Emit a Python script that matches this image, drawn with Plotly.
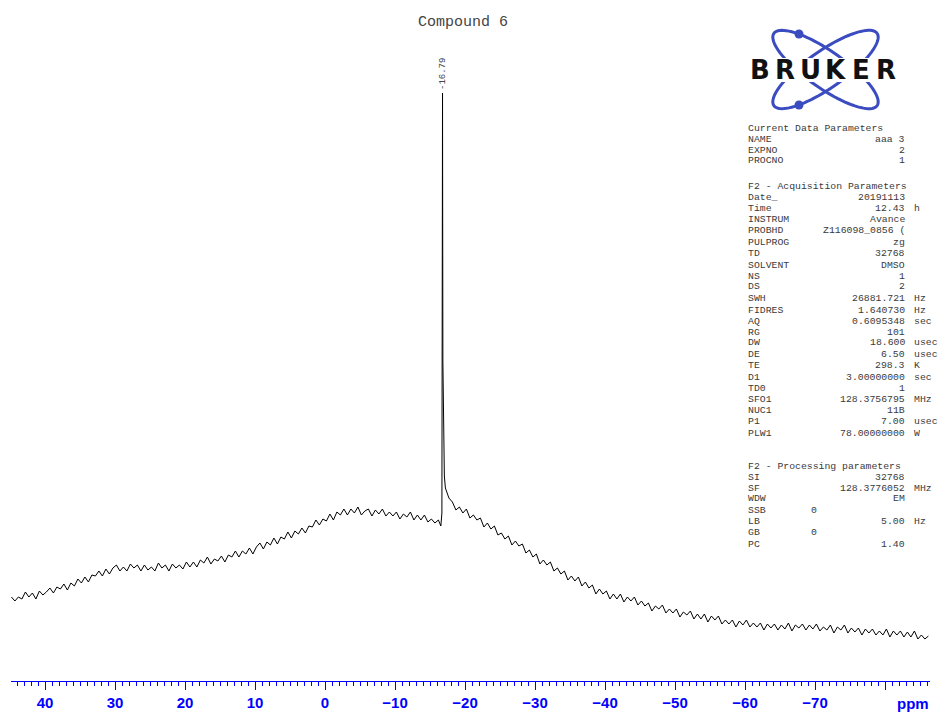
import numpy as np
import plotly.graph_objects as go

# ---------------- data ----------------
title_text = "Compound 6"
peak_label = "-16.79"

# regular ppm grid of the broad background (0.5 ppm steps, 44.8 -> -86.2)
grid_start_ppm = 44.8
grid_step_ppm = -0.5
baseline_int = [
    84, 80, 84, 82, 89, 84, 88, 82, 90, 86,
    89, 93, 88, 94, 92, 97, 91, 98, 95, 102,
    98, 104, 99, 106, 105, 110,
    105, 112, 107, 113,
    116, 110, 114, 110, 117, 113,
    116, 110, 116, 111,
    114, 110, 118, 113, 116, 110, 117, 113, 116, 112,
    119, 114, 119, 114, 121, 118, 124, 117, 122, 120,
    125, 119, 126, 124, 130, 124, 130, 127, 133, 127,
    134, 138, 132, 139, 136, 143, 137, 144,
    142, 149, 143, 150, 147, 153,
    148, 155, 154, 161,
    156, 162, 160, 167,
    161, 169, 166, 172, 166,
    172, 168, 174, 166, 170,
    172, 165, 171, 167, 172,
    165, 169, 165, 169,
    162, 167, 164, 169, 161,
    166, 161, 166, 159, 162, 158, 161,
    168, 193, 183, 179, 171, 174, 168, 172, 163,
    166, 161, 163, 154, 158,
    152, 155, 146, 148, 142,
    145, 136, 140, 135, 137,
    128, 131, 124, 127, 117,
    121, 116, 119, 110, 113,
    107, 110, 101, 105,
    100, 104, 95, 99, 93,
    96, 87, 92, 87, 90,
    82, 87, 82, 87,
    79, 84, 80, 84, 76,
    80, 75, 78, 70, 75,
    72, 76, 68, 72, 68,
    72, 64, 69, 66,
    70, 62, 67, 62, 67, 59,
    65, 61, 65, 57, 61, 57, 61, 54, 60, 56,
    61, 54, 58, 54, 58, 51, 57, 53,
    57, 51, 56, 52, 58, 50, 56, 53, 57, 51,
    56, 52, 57, 50, 54, 51, 56, 48, 54, 51,
    56, 48, 53, 49, 53, 46, 52, 48,
    52, 46, 50, 46, 52, 44, 50, 46, 50, 44,
    49, 44, 50, 42, 46, 42, 45,
]
# sharp resonance at -16.79 ppm
peak_ppm = [-16.55, -16.74, -16.79, -16.84, -16.95, -17.05]
peak_int = [155, 300, 588, 320, 230, 205]

tick_vals = [40, 30, 20, 10, 0, -10, -20, -30, -40, -50, -60, -70, -80]
tick_text = ["40", "30", "20", "10", "0", "\u221210", "\u221220", "\u221230",
             "\u221240", "\u221250", "\u221260", "\u221270", ""]
axis_unit = "ppm"

logo_word = "BRUKER"

param_names = ["Current Data Parameters", "NAME", "EXPNO", "PROCNO",
               "F2 - Acquisition Parameters", "Date_", "Time", "INSTRUM", "PROBHD",
               "PULPROG", "TD", "SOLVENT", "NS", "DS", "SWH", "FIDRES", "AQ", "RG",
               "DW", "DE", "TE", "D1", "TD0", "SFO1", "NUC1", "P1", "PLW1",
               "F2 - Processing parameters", "SI", "SF", "WDW", "SSB", "LB", "GB", "PC"]
param_values = ["", "aaa 3", "2", "1",
                "", "20191113", "12.43", "Avance", "Z116098_0856 (",
                "zg", "32768", "DMSO", "1", "2", "26881.721", "1.640730", "0.6095348", "101",
                "18.600", "6.50", "298.3", "3.00000000", "1", "128.3756795", "11B", "7.00", "78.00000000",
                "", "32768", "128.3776052", "EM", "0", "5.00", "0", "1.40"]
param_units = ["", "", "", "",
               "", "", "h", "", "",
               "", "", "", "", "", "Hz", "Hz", "sec", "",
               "usec", "usec", "K", "sec", "", "MHz", "", "usec", "W",
               "", "", "MHz", "", "", "Hz", "", ""]

# ---------------- assemble spectrum ----------------
grid_ppm = grid_start_ppm + grid_step_ppm * np.arange(len(baseline_int))
all_ppm = np.concatenate([grid_ppm, np.array(peak_ppm)])
all_int = np.concatenate([np.array(baseline_int, float), np.array(peak_int, float)])
order = np.argsort(-all_ppm)
all_ppm = all_ppm[order]
all_int = all_int[order]

# ---------------- layout geometry (pixels) ----------------
W, H = 943, 713
ML, MR, MT, MB = 11, 13, 0, 32
PW, PH = W - ML - MR, H - MT - MB
PX_PER_PPM = 7.0
x_left_ppm = (325 - ML) / PX_PER_PPM
x_right_ppm = (325 - (W - MR)) / PX_PER_PPM


def px(x):
    return (x - ML) / PW


def py(y):
    return (H - MB - y) / PH


fig = go.Figure()
fig.add_trace(go.Scatter(x=all_ppm, y=all_int, mode="lines",
                         line=dict(color="black", width=1),
                         hoverinfo="skip", showlegend=False))

BLUE = "#0000ff"
fig.update_layout(
    width=W, height=H,
    margin=dict(l=ML, r=MR, t=MT, b=MB, pad=0),
    paper_bgcolor="white", plot_bgcolor="white",
    showlegend=False,
    xaxis=dict(range=[x_left_ppm, x_right_ppm], showgrid=False, zeroline=False,
               showline=True, linecolor=BLUE, linewidth=1,
               tickmode="array", tickvals=tick_vals, ticktext=tick_text,
               ticks="outside", ticklen=8, tickwidth=1, tickcolor=BLUE,
               tickfont=dict(family="Liberation Sans", size=15, color=BLUE, weight="bold"),
               minor=dict(tick0=0, dtick=1, ticks="outside", ticklen=4,
                          tickwidth=1, tickcolor=BLUE, showgrid=False)),
    yaxis=dict(range=[0, PH], visible=False, showgrid=False, zeroline=False),
)

ann = []
# title
ann.append(dict(x=px(463), y=py(22), xref="paper", yref="paper", text=title_text,
                showarrow=False, xanchor="center", yanchor="middle",
                font=dict(family="Liberation Mono", size=15, color="#444444")))
# peak label
ann.append(dict(x=px(443), y=py(74), xref="paper", yref="paper", text=peak_label,
                showarrow=False, textangle=-90, xanchor="center", yanchor="middle",
                font=dict(family="Liberation Mono", size=9, color="#444444")))
# ppm unit label
ann.append(dict(x=px(913), y=py(703), xref="paper", yref="paper", text=axis_unit,
                showarrow=False, xanchor="center", yanchor="middle",
                font=dict(family="Liberation Sans", size=15, color=BLUE, weight="bold")))

# parameter block
line_y = [128, 139, 150, 161,
          186, 197, 208, 220, 231, 242, 253, 265, 276, 287, 298, 310, 321, 332,
          343, 354, 366, 377, 388, 399, 410, 422, 433,
          466, 477, 488, 499, 510, 521, 532, 544]
PFONT = dict(family="Liberation Mono", size=9.8, color="#3a3a3a")
NAME_X, VAL_RIGHT_X, UNIT_X, ZERO_X = 747, 906, 913, 810


def add_text(x, y, s, anchor):
    ann.append(dict(x=px(x), y=py(y), xref="paper", yref="paper",
                    text=s.replace(" ", "\u00a0"), showarrow=False,
                    xanchor=anchor, yanchor="middle", borderpad=0,
                    font=PFONT))


for name, val, unit, yy in zip(param_names, param_values, param_units, line_y):
    add_text(NAME_X, yy, name, "left")
    if val:
        if name in ("SSB", "GB"):
            add_text(ZERO_X, yy, val, "left")
        else:
            add_text(VAL_RIGHT_X, yy, val, "right")
    if unit:
        add_text(UNIT_X, yy, unit, "left")

# logo letters
letter_x = [759.7, 785.0, 810.3, 835.7, 861.0, 886.3]
for ch, lx in zip(logo_word, letter_x):
    ann.append(dict(x=px(lx), y=py(69.5), xref="paper", yref="paper", text=ch,
                    showarrow=False, xanchor="center", yanchor="middle", borderpad=0,
                    font=dict(family="DejaVu Sans", size=26, color="#111111", weight="bold")))
fig.update_layout(annotations=ann)

# logo orbits
LOGO_BLUE = "#3a4cc0"


def ellipse_path(cx, cy, a, b, theta_deg, n=90):
    t = np.linspace(0, 2 * np.pi, n)
    th = np.radians(theta_deg)
    xs = cx + a * np.cos(t) * np.cos(th) - b * np.sin(t) * np.sin(th)
    ys = cy + a * np.cos(t) * np.sin(th) + b * np.sin(t) * np.cos(th)
    pts = [f"{px(x):.5f},{py(y):.5f}" for x, y in zip(xs, ys)]
    return "M " + " L ".join(pts) + " Z"


shapes = []
for th in (35, -35):
    shapes.append(dict(type="path", xref="paper", yref="paper",
                       path=ellipse_path(825.5, 69.5, 63, 18.5, th),
                       line=dict(color=LOGO_BLUE, width=3), layer="above"))
for (dx, dy) in ((799, 34), (799, 105)):
    r = 4.5
    shapes.append(dict(type="circle", xref="paper", yref="paper",
                       x0=px(dx - r), x1=px(dx + r), y0=py(dy + r), y1=py(dy - r),
                       fillcolor=LOGO_BLUE, line=dict(color=LOGO_BLUE, width=0), layer="above"))
# white band behind the logo word
shapes.append(dict(type="rect", xref="paper", yref="paper",
                   x0=px(745), x1=px(901), y0=py(82), y1=py(58),
                   fillcolor="white", line=dict(width=0), layer="above"))
fig.update_layout(shapes=shapes)

fig.write_html("out.html")
